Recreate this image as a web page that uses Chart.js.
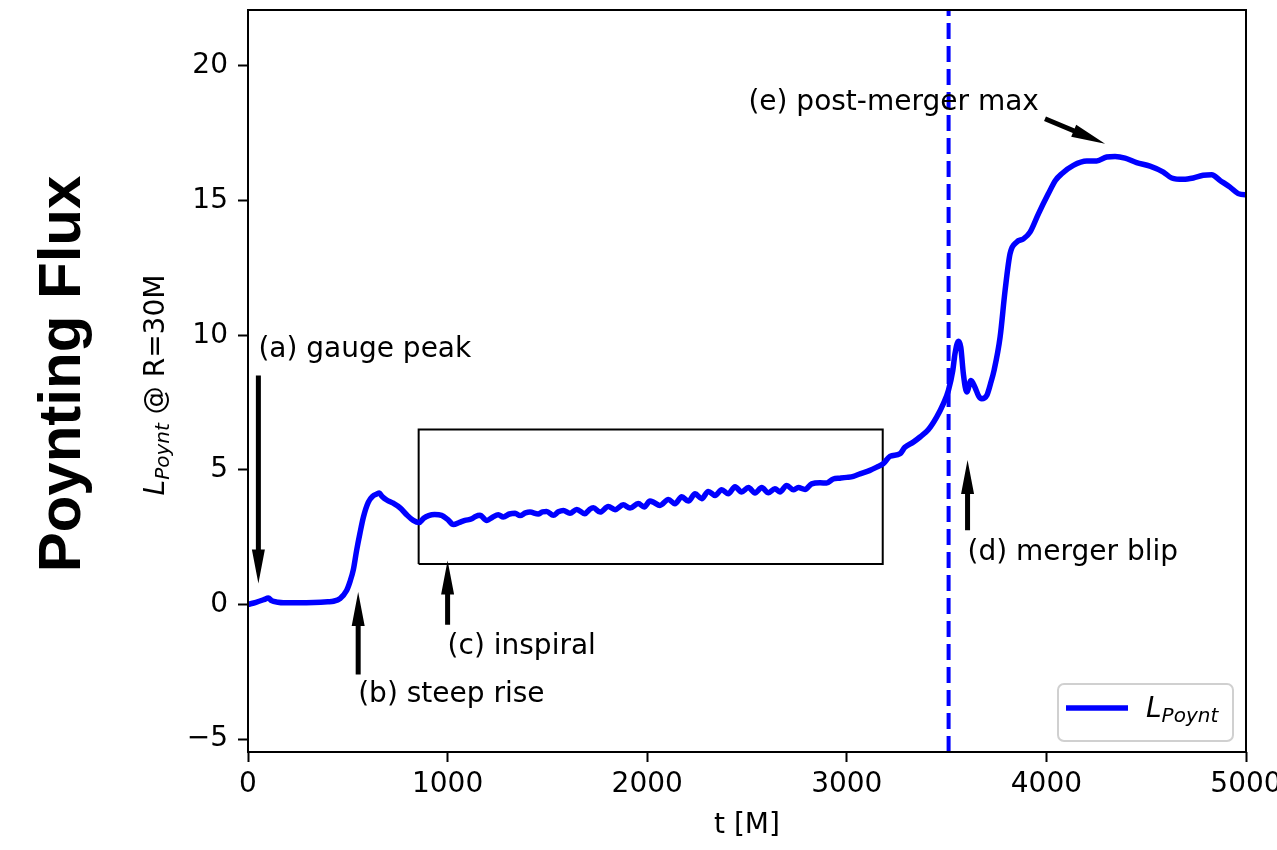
<!DOCTYPE html>
<html>
<head>
<meta charset="utf-8">
<script src="https://cdn.jsdelivr.net/npm/chart.js@4.4.0/dist/chart.umd.min.js"></script>
<style>
  html, body { margin: 0; padding: 0; background: #fff; }
  #wrap { width: 1277px; height: 850px; }
</style>
</head>
<body>
<div id="wrap"><canvas id="fluxChart" width="1277" height="850"></canvas></div>
<script>
// Poynting luminosity extracted at R = 30M
const timeM = [
  0, 40, 80, 102, 118, 150, 177, 250, 330, 400, 428, 461, 494, 511, 528, 544, 561, 578, 603, 625,
  645, 658, 668, 675, 695, 728, 762, 795, 828, 857, 880, 905, 935, 970, 1000, 1029, 1060, 1087, 1121, 1140,
  1162, 1196, 1225, 1254, 1279, 1310, 1338, 1363, 1390, 1413, 1454, 1475, 1496, 1530, 1555, 1580, 1613, 1647, 1688, 1710,
  1730, 1764, 1805, 1839, 1880, 1914, 1955, 1985, 2014, 2031, 2064, 2106, 2139, 2173, 2206, 2240, 2273, 2306, 2340, 2373,
  2406, 2440, 2473, 2507, 2540, 2574, 2607, 2640, 2665, 2699, 2732, 2757, 2791, 2824, 2866, 2899, 2932, 2966, 3000, 3033,
  3066, 3116, 3150, 3183, 3216, 3267, 3291, 3333, 3367, 3408, 3450, 3484, 3509, 3531, 3542, 3559, 3571, 3584, 3601, 3622,
  3642, 3660, 3676, 3701, 3720, 3738, 3768, 3793, 3818, 3851, 3885, 3918, 3960, 4010, 4045, 4077, 4135, 4202, 4252, 4302,
  4344, 4394, 4452, 4519, 4586, 4628, 4686, 4736, 4786, 4828, 4870, 4920, 4961, 4995, 5000
];
const lPoynt = [
  0.00, 0.08, 0.18, 0.24, 0.14, 0.08, 0.06, 0.06, 0.07, 0.10, 0.12, 0.22, 0.52, 0.85, 1.30, 2.00, 2.65, 3.24, 3.80, 4.02,
  4.10, 4.14, 4.05, 3.99, 3.88, 3.76, 3.59, 3.33, 3.12, 3.04, 3.20, 3.30, 3.34, 3.31, 3.16, 2.97, 3.05, 3.12, 3.18, 3.27,
  3.31, 3.12, 3.24, 3.33, 3.25, 3.36, 3.39, 3.30, 3.40, 3.43, 3.36, 3.44, 3.45, 3.31, 3.44, 3.49, 3.39, 3.53, 3.37, 3.52,
  3.59, 3.43, 3.64, 3.52, 3.70, 3.58, 3.75, 3.62, 3.84, 3.80, 3.68, 3.90, 3.74, 4.00, 3.84, 4.11, 3.93, 4.20, 4.05, 4.26,
  4.11, 4.37, 4.18, 4.34, 4.14, 4.34, 4.15, 4.30, 4.18, 4.42, 4.26, 4.34, 4.27, 4.48, 4.52, 4.51, 4.66, 4.69, 4.72, 4.76,
  4.85, 4.98, 5.10, 5.23, 5.50, 5.60, 5.84, 6.03, 6.22, 6.49, 6.96, 7.46, 7.95, 8.69, 9.31, 9.78, 9.56, 8.57, 7.89, 8.32,
  8.07, 7.75, 7.64, 7.76, 8.20, 8.70, 9.93, 11.66, 13.03, 13.46, 13.58, 13.83, 14.51, 15.26, 15.75, 16.00, 16.31, 16.47, 16.47, 16.62,
  16.64, 16.58, 16.41, 16.28, 16.06, 15.84, 15.79, 15.84, 15.94, 15.96, 15.75, 15.50, 15.26, 15.22, 15.22
];

const xTicks = [0, 1000, 2000, 3000, 4000, 5000];
const yTicks = [-5, 0, 5, 10, 15, 20];
const xRange = [0, 5000];
const yRange = [-5.48, 22.08];

const mergerTime = 3510;
const inspiralBoxT = [855, 3180];
const inspiralBoxL = [1.5, 6.5];

// annotations: label, text anchor (left/baseline), arrow tail, arrow tip
const noteLabels = ['(a) gauge peak', '(b) steep rise', '(c) inspiral', '(d) merger blip', '(e) post-merger max'];
const noteTextAt = [[52, 9.19], [552, -3.63], [1000, -1.83], [3605, 1.66], [2507, 18.38]];
const noteTail = [[52, 8.5], [552, -2.6], [1000, -0.75], [3605, 2.76], [3993, 18.04]];
const noteTip = [[52, 0.78], [552, 0.46], [1000, 1.63], [3605, 5.37], [4294, 17.11]];

const FONT = '"DejaVu Sans", sans-serif';
const LINE_BLUE = '#0000ff';

function unicodeMinus(v) {
  return String(v).replace('-', '\u2212');
}

function drawArrow(ctx, x0, y0, x1, y1) {
  const len = Math.hypot(x1 - x0, y1 - y0);
  const ux = (x1 - x0) / len, uy = (y1 - y0) / len;
  const nx = -uy, ny = ux;
  const shaft = 2.5, head = 6.5, headLen = 34;
  const bx = x1 - ux * headLen, by = y1 - uy * headLen;
  ctx.beginPath();
  ctx.moveTo(x0 + nx * shaft, y0 + ny * shaft);
  ctx.lineTo(bx + nx * shaft, by + ny * shaft);
  ctx.lineTo(bx + nx * head, by + ny * head);
  ctx.lineTo(x1, y1);
  ctx.lineTo(bx - nx * head, by - ny * head);
  ctx.lineTo(bx - nx * shaft, by - ny * shaft);
  ctx.lineTo(x0 - nx * shaft, y0 - ny * shaft);
  ctx.closePath();
  ctx.fill();
}

// italic symbol with a smaller italic subscript, starting at x on baseline y
function drawSubscripted(ctx, x, y, base, sub, size) {
  ctx.font = 'italic ' + size + 'px ' + FONT;
  ctx.fillText(base, x, y);
  const w = ctx.measureText(base).width;
  const subSize = Math.round(size * 0.7);
  ctx.font = 'italic ' + subSize + 'px ' + FONT;
  ctx.fillText(sub, x + w, y + size * 0.18);
  return w + ctx.measureText(sub).width;
}

function subscriptedWidth(ctx, base, sub, size) {
  ctx.font = 'italic ' + size + 'px ' + FONT;
  const w = ctx.measureText(base).width;
  ctx.font = 'italic ' + Math.round(size * 0.7) + 'px ' + FONT;
  return w + ctx.measureText(sub).width;
}

const decorPlugin = {
  id: 'decor',
  afterDraw(chart) {
    const ctx = chart.ctx;
    const area = chart.chartArea;
    const xs = chart.scales.x, ys = chart.scales.y;

    ctx.save();
    // frame
    ctx.strokeStyle = '#000';
    ctx.lineWidth = 2;
    ctx.strokeRect(area.left, area.top, area.right - area.left, area.bottom - area.top);

    // annotations
    ctx.fillStyle = '#000';
    ctx.textAlign = 'left';
    ctx.textBaseline = 'alphabetic';
    noteLabels.forEach((label, i) => {
      ctx.font = '28px ' + FONT;
      ctx.fillText(label, xs.getPixelForValue(noteTextAt[i][0]), ys.getPixelForValue(noteTextAt[i][1]));
      drawArrow(ctx,
        xs.getPixelForValue(noteTail[i][0]), ys.getPixelForValue(noteTail[i][1]),
        xs.getPixelForValue(noteTip[i][0]), ys.getPixelForValue(noteTip[i][1]));
    });

    // legend
    const lx = 1058, ly = 684, lw = 175, lh = 57;
    ctx.beginPath();
    ctx.roundRect(lx, ly, lw, lh, 6);
    ctx.fillStyle = 'rgba(255,255,255,0.8)';
    ctx.fill();
    ctx.strokeStyle = '#d0d0d0';
    ctx.lineWidth = 2;
    ctx.stroke();
    ctx.strokeStyle = LINE_BLUE;
    ctx.lineWidth = 5.5;
    ctx.beginPath();
    ctx.moveTo(1066, 708);
    ctx.lineTo(1128, 708);
    ctx.stroke();
    ctx.fillStyle = '#000';
    drawSubscripted(ctx, 1146, 717, 'L', 'Poynt', 28);

    // x axis label
    ctx.font = '28px ' + FONT;
    ctx.textAlign = 'center';
    ctx.textBaseline = 'middle';
    ctx.fillText('t [M]', (area.left + area.right) / 2, 826);

    // y axis label
    ctx.save();
    ctx.translate(164, 385);
    ctx.rotate(-Math.PI / 2);
    ctx.textAlign = 'left';
    ctx.textBaseline = 'alphabetic';
    const rest = ' @ R=30M';
    const symW = subscriptedWidth(ctx, 'L', 'Poynt', 28);
    ctx.font = '28px ' + FONT;
    const total = symW + ctx.measureText(rest).width;
    const x0 = -total / 2;
    drawSubscripted(ctx, x0, 0, 'L', 'Poynt', 28);
    ctx.font = '28px ' + FONT;
    ctx.fillText(rest, x0 + symW, 0);
    ctx.restore();

    // figure side title
    ctx.save();
    ctx.translate(80, 374);
    ctx.rotate(-Math.PI / 2);
    ctx.font = 'bold 60px "Liberation Sans", Arial, sans-serif';
    ctx.textAlign = 'center';
    ctx.textBaseline = 'alphabetic';
    ctx.fillText('Poynting Flux', 0, 0);
    ctx.restore();

    ctx.restore();
  }
};

const fluxPoints = timeM.map((t, i) => ({ x: t, y: lPoynt[i] }));
const mergerPoints = [{ x: mergerTime, y: yRange[0] }, { x: mergerTime, y: yRange[1] }];
const boxPoints = [
  { x: inspiralBoxT[0], y: inspiralBoxL[0] },
  { x: inspiralBoxT[1], y: inspiralBoxL[0] },
  { x: inspiralBoxT[1], y: inspiralBoxL[1] },
  { x: inspiralBoxT[0], y: inspiralBoxL[1] },
  { x: inspiralBoxT[0], y: inspiralBoxL[0] }
];

const tickFont = { family: FONT, size: 28 };

new Chart(document.getElementById('fluxChart'), {
  type: 'line',
  data: {
    datasets: [
      {
        label: 'L_Poynt',
        data: fluxPoints,
        borderColor: LINE_BLUE,
        borderWidth: 5.5,
        pointRadius: 0,
        cubicInterpolationMode: 'monotone',
        fill: false,
        order: 0
      },
      {
        label: 'merger',
        data: mergerPoints,
        borderColor: LINE_BLUE,
        borderWidth: 4,
        borderDash: [16, 7],
        pointRadius: 0,
        fill: false,
        order: 1
      },
      {
        label: 'inspiral window',
        data: boxPoints,
        borderColor: '#000',
        borderWidth: 2,
        pointRadius: 0,
        tension: 0,
        fill: false,
        order: 2
      }
    ]
  },
  options: {
    responsive: false,
    animation: false,
    layout: { padding: { top: 10, right: 31, bottom: 0, left: 0 } },
    plugins: {
      legend: { display: false },
      tooltip: { enabled: false }
    },
    scales: {
      x: {
        type: 'linear',
        min: xRange[0],
        max: xRange[1],
        afterBuildTicks: s => { s.ticks = xTicks.map(v => ({ value: v })); },
        afterFit: s => { s.height = 98; s.paddingLeft = 0; s.paddingRight = 0; },
        border: { display: false },
        grid: { drawOnChartArea: false, drawTicks: true, tickLength: 10, tickWidth: 2, tickColor: '#000' },
        ticks: { color: '#000', font: tickFont, padding: 6, maxRotation: 0, autoSkip: false, callback: v => unicodeMinus(v) }
      },
      y: {
        type: 'linear',
        min: yRange[0],
        max: yRange[1],
        afterBuildTicks: s => { s.ticks = yTicks.map(v => ({ value: v })); },
        afterFit: s => { s.width = 248; s.paddingTop = 0; s.paddingBottom = 0; },
        border: { display: false },
        grid: { drawOnChartArea: false, drawTicks: true, tickLength: 10, tickWidth: 2, tickColor: '#000' },
        ticks: { color: '#000', font: tickFont, padding: 10, autoSkip: false, callback: v => unicodeMinus(v) }
      }
    }
  },
  plugins: [decorPlugin]
});
</script>
</body>
</html>
